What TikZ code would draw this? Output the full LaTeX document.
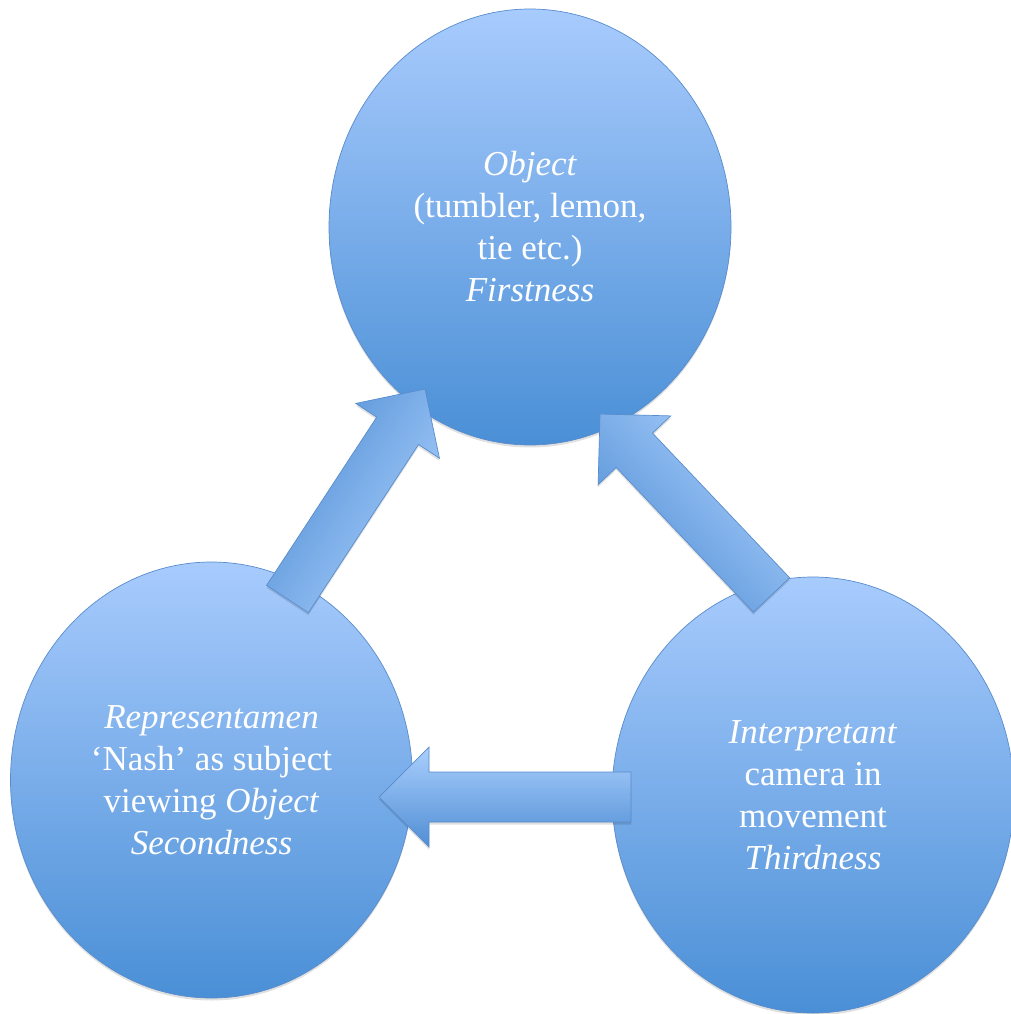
\documentclass[tikz,border=0pt]{standalone}
\usepackage{fontspec}
\setmainfont{Liberation Serif}
\usetikzlibrary{shapes.geometric,calc,shadows}
\definecolor{circtop}{RGB}{168,203,253}
\definecolor{circbot}{RGB}{74,143,214}
\definecolor{edgeblue}{RGB}{88,140,204}
\definecolor{arrlight}{RGB}{170,207,253}
\definecolor{arrdark}{RGB}{80,142,212}
\newcommand\BlockArr[4]{% #1 tail, #2 tip, #3 shading angle, #4 prefix
  \coordinate (#4n) at ($(#2)!50pt!(#1)$);
  \path[blockarr, shading angle=#3]
    ($(#1)!25pt!90:(#2)$) -- ($(#4n)!25pt!90:(#2)$) -- ($(#4n)!50pt!90:(#2)$)
    -- (#2) -- ($(#4n)!50pt!-90:(#2)$) -- ($(#4n)!25pt!-90:(#2)$)
    -- ($(#1)!25pt!-90:(#2)$) -- cycle;
}
\begin{document}
\begin{tikzpicture}[x=1pt,y=-1pt,
  circ/.style={ellipse, draw=edgeblue, line width=0.7pt, top color=circtop, bottom color=circbot,
    minimum width=402pt, minimum height=436pt, inner sep=0pt, align=center, text=white,
    font=\fontsize{35}{42}\selectfont,
    drop shadow={shadow xshift=0pt, shadow yshift=-2.5pt, opacity=0.12, fill=black}},
  blockarr/.style={draw=edgeblue, line width=0.7pt, line join=miter, top color=arrlight, bottom color=arrdark,
    drop shadow={shadow xshift=0pt, shadow yshift=-2.5pt, opacity=0.12, fill=black}}
]
\fill[white] (0,0) rectangle (1011,1014);
\useasboundingbox (0,0) rectangle (1011,1014);

\node[circ] (obj) at (530,227) {\textit{Object}\\(tumbler, lemon,\\tie etc.)\\\textit{Firstness}};
\node[circ] (rep) at (211.5,780) {\textit{Representamen}\\‘Nash’ as subject\\viewing \textit{Object}\\\textit{Secondness}};
\node[circ] (int) at (813,795) {\textit{Interpretant}\\camera in\\movement\\\textit{Thirdness}};

\coordinate (a1t) at (287.5,599);
\coordinate (a1h) at (425,389);
\coordinate (a2t) at (771.5,595);
\coordinate (a2h) at (600,414);
\coordinate (a3t) at (631,797);
\coordinate (a3h) at (379,797);

\BlockArr{a1t}{a1h}{-122.8}{arrA}
\BlockArr{a2t}{a2h}{-46.5}{arrB}
\BlockArr{a3t}{a3h}{0}{arrC}
\end{tikzpicture}
\end{document}
